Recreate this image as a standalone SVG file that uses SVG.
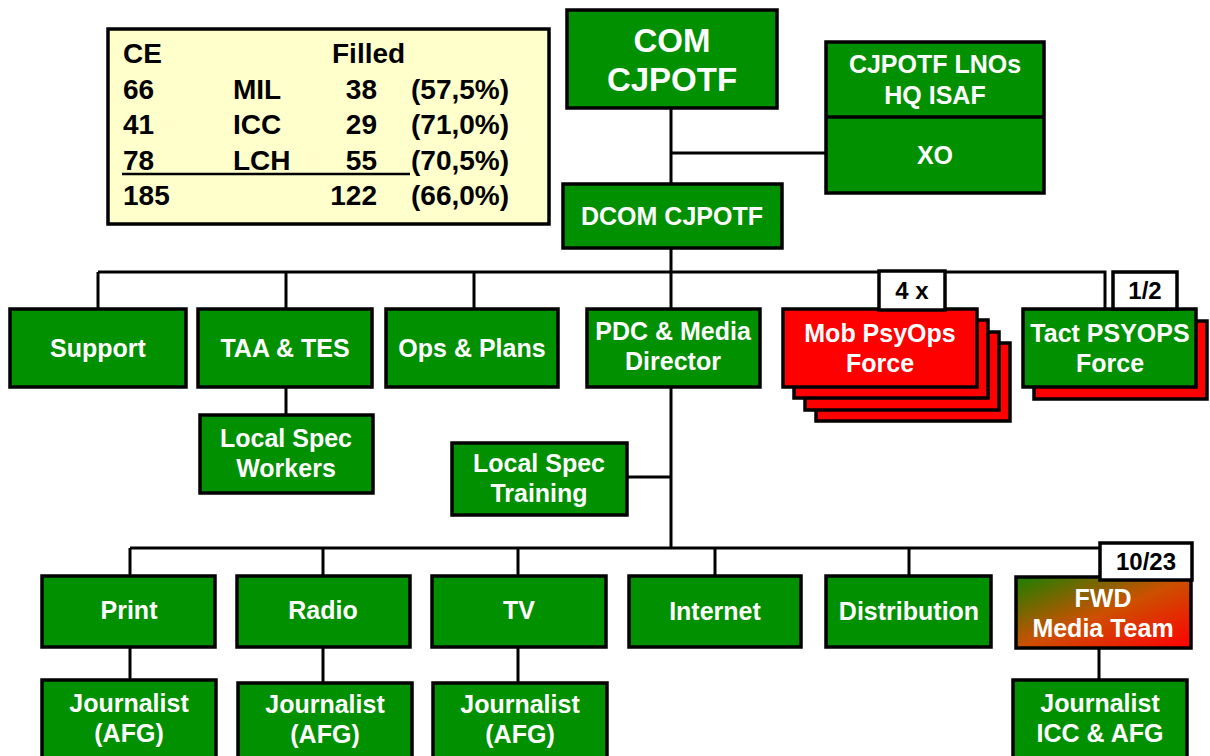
<svg xmlns="http://www.w3.org/2000/svg" width="1210" height="756" viewBox="0 0 1210 756">
<style>
.g{fill:#009000;stroke:#000;stroke-width:3.5}
.r{fill:#FF0000;stroke:#000;stroke-width:3.5}
.lb{fill:#fff;stroke:#000;stroke-width:3.5}
.t{font-family:"Liberation Sans",Arial,sans-serif;font-weight:bold;font-size:25px;fill:#fff;text-anchor:middle}
.k{font-family:"Liberation Sans",Arial,sans-serif;font-weight:bold;font-size:24px;fill:#000;text-anchor:middle}
.tb{font-family:"Liberation Sans",Arial,sans-serif;font-weight:bold;font-size:28px;fill:#000}
.c{stroke:#000;stroke-width:3;fill:none}
</style>
<defs>
<linearGradient id="fwd" x1="0" y1="0" x2="1" y2="1">
<stop offset="0" stop-color="#1A8000"/>
<stop offset="0.5" stop-color="#CC5000"/>
<stop offset="1" stop-color="#FF0000"/>
</linearGradient>
</defs>
<rect width="1210" height="756" fill="#fff"/>

<g id="connectors">
<path class="c" d="M671,108 V184 M671,153 H826"/>
<path class="c" d="M671,248 V272 M98,272 H1105 V309 M98,272 V309 M286,272 V309 M474,272 V309 M671,272 V309"/>
<path class="c" d="M286,387 V415"/>
<path class="c" d="M671,387 V548 M627,477 H671"/>
<path class="c" d="M130,548 H1100 M130,548 V576 M323,548 V576 M518,548 V576 M715,548 V576 M909,548 V576"/>
<path class="c" d="M130,647 V680 M323,647 V683 M518,647 V683 M1099,648 V680"/>
</g>

<g id="table">
<rect x="108" y="29" width="441" height="195" fill="#FFFFCC" stroke="#000" stroke-width="3.5"/>
<text class="tb" x="123" y="63">CE</text>
<text class="tb" x="332" y="63">Filled</text>
<text class="tb" x="123" y="99">66</text><text class="tb" x="233" y="99">MIL</text><text class="tb" x="377" y="99" text-anchor="end">38</text><text class="tb" x="411" y="99">(57,5%)</text>
<text class="tb" x="123" y="134">41</text><text class="tb" x="233" y="134">ICC</text><text class="tb" x="377" y="134" text-anchor="end">29</text><text class="tb" x="411" y="134">(71,0%)</text>
<text class="tb" x="123" y="170">78</text><text class="tb" x="233" y="170">LCH</text><text class="tb" x="377" y="170" text-anchor="end">55</text><text class="tb" x="411" y="170">(70,5%)</text>
<line x1="122" y1="174" x2="410" y2="174" stroke="#000" stroke-width="2.5"/>
<text class="tb" x="123" y="205">185</text><text class="tb" x="377" y="205" text-anchor="end">122</text><text class="tb" x="411" y="205">(66,0%)</text>
</g>

<g id="com"><rect class="g" x="567" y="10" width="210" height="98"/>
<text class="t" x="672" y="52" style="font-size:33px">COM</text><text class="t" x="672" y="91" style="font-size:33px">CJPOTF</text></g>

<g id="lnos"><rect class="g" x="826" y="42" width="218" height="151"/>
<line x1="826" y1="117" x2="1044" y2="117" stroke="#000" stroke-width="3.5"/>
<text class="t" x="935" y="73">CJPOTF LNOs</text><text class="t" x="935" y="104">HQ ISAF</text>
<text class="t" x="935" y="164">XO</text></g>

<g id="dcom"><rect class="g" x="563" y="184" width="219" height="64"/>
<text class="t" x="672" y="225">DCOM CJPOTF</text></g>

<g id="support"><rect class="g" x="10" y="309" width="176" height="78"/><text class="t" x="98" y="357">Support</text></g>
<g id="taa"><rect class="g" x="198" y="309" width="174" height="78"/><text class="t" x="285" y="357">TAA &amp; TES</text></g>
<g id="ops"><rect class="g" x="386" y="309" width="172" height="78"/><text class="t" x="472" y="357">Ops &amp; Plans</text></g>
<g id="pdc"><rect class="g" x="587" y="309" width="173" height="78"/><text class="t" x="673" y="340">PDC &amp; Media</text><text class="t" x="673" y="370">Director</text></g>

<g id="mob">
<rect class="r" x="816" y="343" width="194" height="78"/>
<rect class="r" x="805" y="332" width="194" height="78"/>
<rect class="r" x="794" y="320" width="194" height="78"/>
<rect class="r" x="783" y="309" width="194" height="78"/>
<text class="t" x="880" y="342">Mob PsyOps</text><text class="t" x="880" y="372">Force</text>
<rect class="lb" x="879" y="271" width="66" height="39"/><text class="k" x="912" y="299">4 x</text>
</g>

<g id="tact">
<rect class="r" x="1034" y="321" width="173" height="78"/>
<rect class="g" x="1023" y="309" width="173" height="78"/>
<text class="t" x="1110" y="342">Tact PSYOPS</text><text class="t" x="1110" y="372">Force</text>
<rect class="lb" x="1113" y="272" width="64" height="37"/><text class="k" x="1145" y="299">1/2</text>
</g>

<g id="workers"><rect class="g" x="200" y="415" width="173" height="78"/><text class="t" x="286" y="447">Local Spec</text><text class="t" x="286" y="477">Workers</text></g>
<g id="training"><rect class="g" x="452" y="443" width="175" height="72"/><text class="t" x="539" y="472">Local Spec</text><text class="t" x="539" y="502">Training</text></g>

<g id="print"><rect class="g" x="42" y="576" width="173" height="71"/><text class="t" x="129" y="619">Print</text></g>
<g id="radio"><rect class="g" x="237" y="576" width="173" height="71"/><text class="t" x="323" y="619">Radio</text></g>
<g id="tv"><rect class="g" x="432" y="576" width="174" height="71"/><text class="t" x="519" y="619">TV</text></g>
<g id="internet"><rect class="g" x="629" y="576" width="172" height="71"/><text class="t" x="715" y="620">Internet</text></g>
<g id="distribution"><rect class="g" x="826" y="576" width="165" height="71"/><text class="t" x="909" y="620">Distribution</text></g>
<g id="fwd"><rect x="1016" y="577" width="175" height="71" fill="url(#fwd)" stroke="#000" stroke-width="3.5"/>
<text class="t" x="1103" y="607">FWD</text><text class="t" x="1103" y="637">Media Team</text>
<rect class="lb" x="1100" y="543" width="92" height="37"/><text class="k" x="1146" y="570">10/23</text></g>

<g id="j1"><rect class="g" x="42" y="680" width="174" height="84"/><text class="t" x="129" y="712">Journalist</text><text class="t" x="129" y="742">(AFG)</text></g>
<g id="j2"><rect class="g" x="238" y="683" width="174" height="84"/><text class="t" x="325" y="713">Journalist</text><text class="t" x="325" y="743">(AFG)</text></g>
<g id="j3"><rect class="g" x="433" y="683" width="174" height="84"/><text class="t" x="520" y="713">Journalist</text><text class="t" x="520" y="743">(AFG)</text></g>
<g id="j4"><rect class="g" x="1013" y="680" width="174" height="84"/><text class="t" x="1100" y="712">Journalist</text><text class="t" x="1100" y="742">ICC &amp; AFG</text></g>
</svg>
